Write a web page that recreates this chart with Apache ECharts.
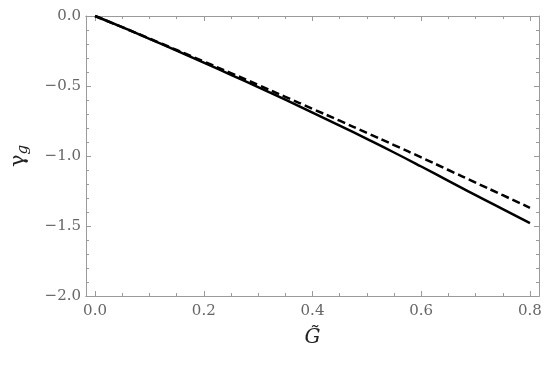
<!DOCTYPE html>
<html>
<head>
<meta charset="utf-8">
<script src="https://cdn.jsdelivr.net/npm/echarts@6/dist/echarts.min.js"></script>
<style>
  html, body { margin: 0; padding: 0; background: #fff; }
  #chart { width: 550px; height: 366px; }
</style>
</head>
<body>
<div id="chart"></div>
<script>
// G tilde values
const gValues = [0, 0.05, 0.1, 0.15, 0.2, 0.25, 0.3, 0.35, 0.4, 0.45, 0.5, 0.55, 0.6, 0.65, 0.7, 0.75, 0.8];
// solid curve
const gammaSolid = [0, -0.080, -0.163, -0.247, -0.333, -0.420, -0.508, -0.598, -0.690, -0.783, -0.878, -0.975, -1.075, -1.177, -1.280, -1.380, -1.480];
// dashed curve
const gammaDashed = [0, -0.080, -0.161, -0.243, -0.325, -0.408, -0.492, -0.577, -0.663, -0.748, -0.835, -0.922, -1.010, -1.100, -1.190, -1.280, -1.370];

const xMajorTicks = [0, 0.2, 0.4, 0.6, 0.8];
const xMinorTicks = [0.05, 0.1, 0.15, 0.25, 0.3, 0.35, 0.45, 0.5, 0.55, 0.65, 0.7, 0.75];

const frameColor = '#9a9a9a';
const labelColor = '#666';
const font = 'DejaVu Serif';
const xMin = -0.0166, xMax = 0.8166;

function toPairs(ys) {
  return gValues.map((x, i) => [x, ys[i]]);
}
function fmt(v) {
  return v.toFixed(1).replace('-', '\u2212');
}

function xAxisFor(pos, ticks, len, withLabels) {
  return {
    type: 'value',
    position: pos,
    min: xMin,
    max: xMax,
    axisLine: { show: true, onZero: false, lineStyle: { color: frameColor, width: 1 } },
    axisTick: {
      show: true, inside: true, length: len, customValues: ticks,
      lineStyle: { color: frameColor, width: 1 }
    },
    axisLabel: withLabels ? {
      show: true, customValues: ticks, margin: 8,
      color: labelColor, fontFamily: font, fontSize: 15,
      formatter: v => fmt(v)
    } : { show: false },
    splitLine: { show: false }
  };
}

function yAxisFor(pos, withLabels) {
  return {
    type: 'value',
    position: pos,
    min: -2,
    max: 0,
    interval: 0.5,
    axisLine: { show: true, onZero: false, lineStyle: { color: frameColor, width: 1 } },
    axisTick: { show: true, inside: true, length: 5, lineStyle: { color: frameColor } },
    minorTick: { show: true, splitNumber: 5, length: 3, lineStyle: { color: frameColor } },
    axisLabel: withLabels ? {
      show: true, margin: 5, color: labelColor, fontFamily: font, fontSize: 15,
      formatter: v => fmt(v)
    } : { show: false },
    splitLine: { show: false },
    minorSplitLine: { show: false }
  };
}

const chart = echarts.init(document.getElementById('chart'));

const bottomMajor = xAxisFor('bottom', xMajorTicks, 5, true);
bottomMajor.name = 'G\u0303';
bottomMajor.nameLocation = 'middle';
bottomMajor.nameGap = 32;
bottomMajor.nameTextStyle = { fontFamily: font, fontStyle: 'italic', fontSize: 20, color: '#222' };

const leftAxis = yAxisFor('left', true);
leftAxis.name = '{a|γ}{b|g}';
leftAxis.nameLocation = 'middle';
leftAxis.nameRotate = 90;
leftAxis.nameGap = 55;
leftAxis.nameTextStyle = {
  rich: {
    a: { fontFamily: font, fontSize: 21, color: '#222' },
    b: { fontFamily: font, fontStyle: 'italic', fontSize: 15, color: '#222', padding: [9, 0, 0, 0] }
  }
};

chart.setOption({
  backgroundColor: '#fff',
  animation: false,
  grid: { left: 86, right: 11, top: 16, bottom: 70 },
  xAxis: [
    bottomMajor,
    xAxisFor('bottom', xMinorTicks, 3, false),
    xAxisFor('top', xMajorTicks, 5, false),
    xAxisFor('top', xMinorTicks, 3, false)
  ],
  yAxis: [leftAxis, yAxisFor('right', false)],
  series: [
    {
      type: 'line',
      data: toPairs(gammaSolid),
      smooth: true,
      showSymbol: false,
      lineStyle: { color: '#000', width: 2.5 }
    },
    {
      type: 'line',
      data: toPairs(gammaDashed),
      smooth: true,
      showSymbol: false,
      lineStyle: { color: '#000', width: 2.5, type: [8, 4] }
    }
  ]
});
</script>
</body>
</html>
